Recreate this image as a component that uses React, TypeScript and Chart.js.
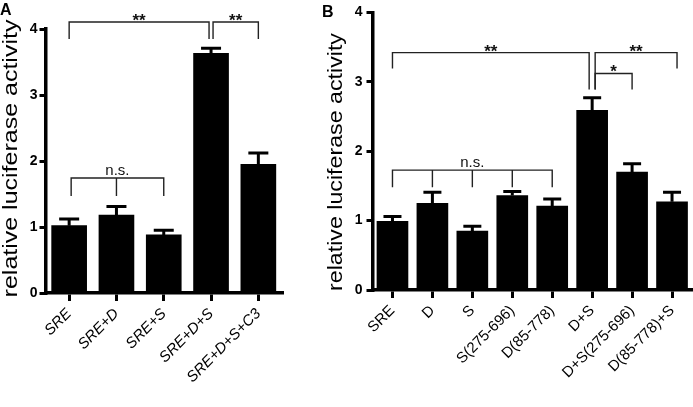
import React, { useEffect, useRef } from "react";
import { Chart, registerables } from "chart.js";

Chart.register(...registerables);

// ---------- data ----------
const categoriesA = ["SRE", "SRE+D", "SRE+S", "SRE+D+S", "SRE+D+S+C3"];
const valuesA = [1.02, 1.18, 0.88, 3.63, 1.95];
const errorsA = [0.1, 0.13, 0.07, 0.08, 0.17];

const categoriesB = [
  "SRE",
  "D",
  "S",
  "S(275-696)",
  "D(85-778)",
  "D+S",
  "D+S(275-696)",
  "D(85-778)+S",
];
const valuesB = [0.99, 1.25, 0.85, 1.36, 1.21, 2.59, 1.7, 1.27];
const errorsB = [0.07, 0.16, 0.07, 0.06, 0.1, 0.18, 0.12, 0.14];

const yMin = 0;
const yMax = 4;
const yStep = 1;

const yTitle = "relative luciferase activity";

// significance brackets (category indices, value levels)
const bracketsA = [
  { from: 0, to: 3, fromShift: 0, toShift: -2, y: 4.106, dropFrom: 3.85, dropTo: 3.85, mids: [], label: "**" },
  { from: 3, to: 4, fromShift: 2, toShift: 0, y: 4.106, dropFrom: 3.85, dropTo: 3.85, mids: [], label: "**" },
  { from: 0, to: 2, fromShift: 2, toShift: 0, y: 1.742, dropFrom: 1.47, dropTo: 1.47, mids: [1], label: "n.s." },
];
const bracketsB = [
  { from: 0, to: 5, fromShift: 0, toShift: -3, y: 3.42, dropFrom: 3.19, dropTo: 2.89, mids: [], label: "**" },
  { from: 5, to: 7, fromShift: 3, toShift: 5, y: 3.42, dropFrom: 2.89, dropTo: 3.19, mids: [], label: "**" },
  { from: 5, to: 6, fromShift: 3, toShift: 0, y: 3.12, dropFrom: 2.89, dropTo: 2.89, mids: [], label: "*" },
  { from: 0, to: 4, fromShift: 0, toShift: 0, y: 1.727, dropFrom: 1.48, dropTo: 1.48, mids: [1, 2, 3], label: "n.s." },
];

const FONT = "'Liberation Sans', Arial, Helvetica, sans-serif";

// ---------- plugins ----------
const errorBarPlugin = {
  id: "errorBars",
  afterDatasetsDraw(chart: any, _args: any, opts: any) {
    const { ctx } = chart;
    const ys = chart.scales.y;
    const meta = chart.getDatasetMeta(0);
    ctx.save();
    ctx.strokeStyle = "#000";
    ctx.lineWidth = opts.lineWidth;
    meta.data.forEach((el: any, i: number) => {
      const v = opts.values[i];
      const top = ys.getPixelForValue(v + opts.errors[i]);
      const base = ys.getPixelForValue(v);
      ctx.beginPath();
      ctx.moveTo(el.x, base);
      ctx.lineTo(el.x, top);
      ctx.moveTo(el.x - opts.cap / 2, top);
      ctx.lineTo(el.x + opts.cap / 2, top);
      ctx.stroke();
    });
    ctx.restore();
  },
};

const bracketPlugin = {
  id: "brackets",
  afterDraw(chart: any, _args: any, opts: any) {
    const { ctx } = chart;
    const xs = chart.scales.x;
    const ys = chart.scales.y;
    ctx.save();
    ctx.strokeStyle = "#222";
    ctx.fillStyle = "#111";
    ctx.lineWidth = 1.4;
    (opts.items || []).forEach((b: any) => {
      const x1 = xs.getPixelForValue(b.from) + b.fromShift;
      const x2 = xs.getPixelForValue(b.to) + b.toShift;
      const yl = ys.getPixelForValue(b.y);
      ctx.beginPath();
      ctx.moveTo(x1, ys.getPixelForValue(b.dropFrom));
      ctx.lineTo(x1, yl);
      ctx.lineTo(x2, yl);
      ctx.lineTo(x2, ys.getPixelForValue(b.dropTo));
      b.mids.forEach((m: number) => {
        const xm = xs.getPixelForValue(m);
        ctx.moveTo(xm, yl);
        ctx.lineTo(xm, ys.getPixelForValue(b.dropFrom));
      });
      ctx.stroke();
      ctx.textAlign = "center";
      ctx.textBaseline = "alphabetic";
      if (b.label === "n.s.") {
        ctx.font = `15px ${FONT}`;
        ctx.fillText(b.label, (x1 + x2) / 2, yl - 3);
      } else {
        ctx.font = `bold 17px ${FONT}`;
        ctx.fillText(b.label, (x1 + x2) / 2, yl + 4);
      }
    });
    ctx.restore();
  },
};

const textPlugin = {
  id: "panelTexts",
  afterDraw(chart: any, _args: any, opts: any) {
    const { ctx } = chart;
    ctx.save();
    // panel letter
    ctx.fillStyle = "#000";
    ctx.font = `bold 16px ${FONT}`;
    ctx.textAlign = "left";
    ctx.textBaseline = "alphabetic";
    ctx.fillText(opts.letter, opts.letterX, opts.letterY);
    // y-axis title (vertically stretched like the original figure)
    ctx.translate(opts.titleX, opts.titleY);
    ctx.rotate(-Math.PI / 2);
    ctx.scale(opts.titleStretch, 1);
    ctx.font = `${opts.titleSize}px ${FONT}`;
    ctx.textAlign = "center";
    ctx.textBaseline = "middle";
    ctx.fillText(yTitle, 0, 0);
    ctx.restore();
  },
};

function makeConfig(p: any) {
  return {
    type: "bar",
    data: {
      labels: p.labels,
      datasets: [
        {
          data: p.values,
          backgroundColor: "#000",
          borderWidth: 0,
          barThickness: p.barThickness,
        },
      ],
    },
    options: {
      responsive: false,
      animation: false,
      events: [],
      layout: { padding: { top: p.top, right: p.right, left: 0, bottom: 0 } },
      plugins: {
        legend: { display: false },
        tooltip: { enabled: false },
        title: { display: false },
        errorBars: { values: p.values, errors: p.errors, cap: p.cap, lineWidth: 3 },
        brackets: { items: p.brackets },
        panelTexts: p.texts,
      },
      scales: {
        x: {
          offset: true,
          afterFit: (s: any) => {
            s.height = p.xHeight;
          },
          grid: {
            display: true,
            offset: false,
            drawOnChartArea: false,
            drawTicks: true,
            tickLength: 8,
            lineWidth: 3,
            color: "#000",
          },
          border: { display: true, width: 3.5, color: "#000" },
          ticks: {
            autoSkip: false,
            maxRotation: 45,
            minRotation: 45,
            padding: 4,
            color: "#000",
            font: { family: FONT, size: 15, style: p.italic ? "italic" : "normal" },
          },
        },
        y: {
          min: yMin,
          max: yMax,
          afterFit: (s: any) => {
            s.width = p.yWidth;
          },
          grid: {
            display: true,
            drawOnChartArea: false,
            drawTicks: true,
            tickLength: 6,
            lineWidth: 3,
            color: "#000",
          },
          border: { display: true, width: 3.5, color: "#000" },
          ticks: {
            stepSize: yStep,
            padding: p.tickPad,
            color: "#000",
            font: { family: FONT, size: 14, weight: "bold" },
          },
        },
      },
    },
    plugins: [errorBarPlugin, bracketPlugin, textPlugin],
  };
}

function Panel(props: { left: number; width: number; cfg: any }) {
  const ref = useRef<HTMLCanvasElement | null>(null);
  useEffect(() => {
    if (!ref.current) return;
    const chart = new Chart(ref.current, makeConfig(props.cfg) as any);
    return () => chart.destroy();
  }, []);
  return (
    <canvas
      ref={ref}
      width={props.width}
      height={407}
      style={{ position: "absolute", left: props.left, top: 0, width: props.width, height: 407 }}
    />
  );
}

export default function App() {
  const cfgA = {
    labels: categoriesA,
    values: valuesA,
    errors: errorsA,
    brackets: bracketsA,
    barThickness: 35,
    cap: 20,
    top: 29,
    right: 8,
    xHeight: 114,
    yWidth: 45.5,
    tickPad: 2,
    italic: true,
    texts: { letter: "A", letterX: 0, letterY: 15, titleX: 11, titleY: 158.5, titleSize: 21, titleStretch: 1.19 },
  };
  const cfgB = {
    labels: categoriesB,
    values: valuesB,
    errors: errorsB,
    brackets: bracketsB,
    barThickness: 31,
    cap: 18,
    top: 12,
    right: 1,
    xHeight: 117,
    yWidth: 72.5,
    tickPad: 4,
    italic: false,
    texts: { letter: "B", letterX: 22, letterY: 17, titleX: 36.5, titleY: 162, titleSize: 19.5, titleStretch: 1.19 },
  };
  return (
    <div style={{ position: "absolute", left: 0, top: 0, width: 693, height: 407, background: "#fff" }}>
      <Panel left={0} width={290} cfg={cfgA} />
      <Panel left={300} width={393} cfg={cfgB} />
    </div>
  );
}
